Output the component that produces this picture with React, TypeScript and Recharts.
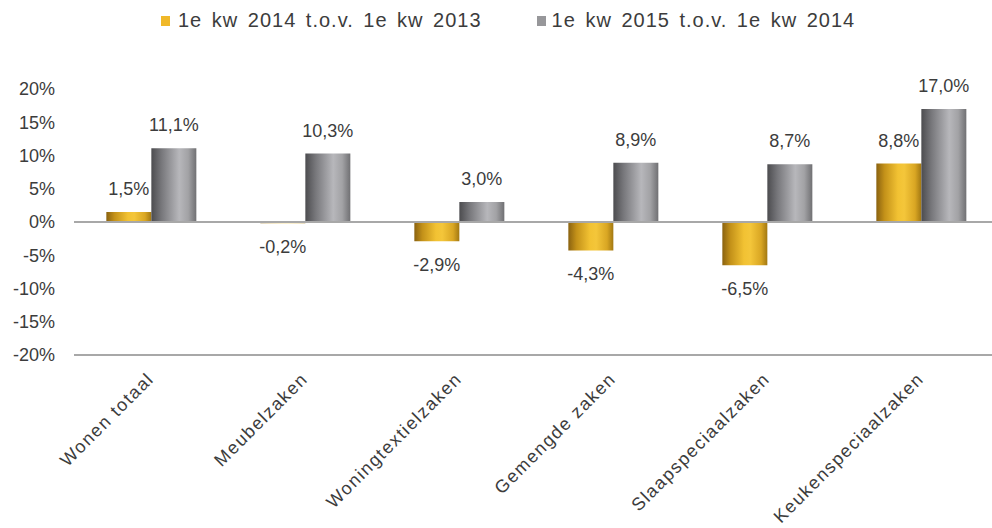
import { BarChart, Bar, XAxis, YAxis, ReferenceLine, LabelList, Legend } from "recharts";

const categories = ["Wonen totaal", "Meubelzaken", "Woningtextielzaken", "Gemengde zaken", "Slaapspeciaalzaken", "Keukenspeciaalzaken"];
const q2014 = [1.5, -0.2, -2.9, -4.3, -6.5, 8.8];
const q2015 = [11.1, 10.3, 3.0, 8.9, 8.7, 17.0];
const yTicks = [-20, -15, -10, -5, 0, 5, 10, 15, 20];
const seriesNames = ["1e kw 2014 t.o.v. 1e kw 2013", "1e kw 2015 t.o.v. 1e kw 2014"];

const data = categories.map((name, i) => ({ name, a: q2014[i], b: q2015[i] }));

const FONT = "'Liberation Sans', Arial, sans-serif";
const TEXT = "#3c3c3c";
const AXIS = "#a8a8a8";

const fmt = (v: number) => `${v.toFixed(1).replace(".", ",")}%`;

const ValueLabel = (props: any) => {
  const { x, y, width, height, value } = props;
  const top = Math.min(y, y + height);
  const bottom = Math.max(y, y + height);
  const cy = value >= 0 ? top - 23 : bottom + 23;
  return (
    <text x={x + width / 2} y={cy} dy="0.35em" textAnchor="middle" fontSize={18} fontFamily={FONT} fill={TEXT}>
      {fmt(value)}
    </text>
  );
};

const CategoryTick = (props: any) => {
  const { x, y, payload } = props;
  const ax = x + 4;
  const ay = y + 17;
  return (
    <text
      x={ax}
      y={ay}
      textAnchor="end"
      transform={`rotate(-45 ${ax} ${ay})`}
      fontSize={18}
      letterSpacing={1.5}
      fontFamily={FONT}
      fill={TEXT}
    >
      {payload.value}
    </text>
  );
};

const LegendContent = () => (
  <div style={{ display: "flex", alignItems: "center", fontFamily: FONT, fontSize: 20, color: TEXT, letterSpacing: 1, wordSpacing: 3 }}>
    <span style={{ width: 9, height: 10, background: "#f0b829", display: "inline-block", marginRight: 8 }} />
    <span style={{ marginRight: 55 }}>{seriesNames[0]}</span>
    <span style={{ width: 9, height: 10, background: "#97979a", display: "inline-block", marginRight: 6 }} />
    <span>{seriesNames[1]}</span>
  </div>
);

export default function App() {
  return (
    <div style={{ position: "absolute", left: 0, top: 0, width: 992, height: 528, overflow: "hidden", background: "#fff" }}>
      <BarChart
        width={1000}
        height={528}
        data={data}
        margin={{ top: 89, right: 2, left: 0, bottom: 0 }}
        barCategoryGap="21%"
        barGap={0}
      >
        <defs>
          <linearGradient id="gradYellow" x1="0" y1="0" x2="1" y2="0">
            <stop offset="0%" stopColor="#8a6210" />
            <stop offset="18%" stopColor="#c39119" />
            <stop offset="48%" stopColor="#f2c233" />
            <stop offset="62%" stopColor="#f4c63a" />
            <stop offset="86%" stopColor="#d9a623" />
            <stop offset="100%" stopColor="#a27812" />
          </linearGradient>
          <linearGradient id="gradGrey" x1="0" y1="0" x2="1" y2="0">
            <stop offset="0%" stopColor="#4c4c4f" />
            <stop offset="22%" stopColor="#76767a" />
            <stop offset="62%" stopColor="#b7b7bb" />
            <stop offset="82%" stopColor="#a2a2a5" />
            <stop offset="100%" stopColor="#707073" />
          </linearGradient>
        </defs>
        <Legend
          layout="horizontal"
          verticalAlign="middle"
          align="center"
          content={<LegendContent />}
          wrapperStyle={{ position: "absolute", top: 9, left: 161, width: "auto" }}
        />
        <XAxis
          dataKey="name"
          axisLine={{ stroke: AXIS, strokeWidth: 2 }}
          tickLine={false}
          interval={0}
          tick={<CategoryTick />}
          height={173}
        />
        <YAxis
          domain={[-20, 20]}
          ticks={yTicks}
          width={74}
          axisLine={false}
          tickLine={false}
          tickMargin={13}
          tickFormatter={(v) => `${v}%`}
          tick={{ fontSize: 18, fontFamily: FONT, fill: TEXT }}
        />
        <ReferenceLine y={0} stroke={AXIS} strokeWidth={2} />
        <Bar dataKey="a" name={seriesNames[0]} fill="url(#gradYellow)" isAnimationActive={false}>
          <LabelList dataKey="a" content={<ValueLabel />} />
        </Bar>
        <Bar dataKey="b" name={seriesNames[1]} fill="url(#gradGrey)" isAnimationActive={false}>
          <LabelList dataKey="b" content={<ValueLabel />} />
        </Bar>
      </BarChart>
    </div>
  );
}
